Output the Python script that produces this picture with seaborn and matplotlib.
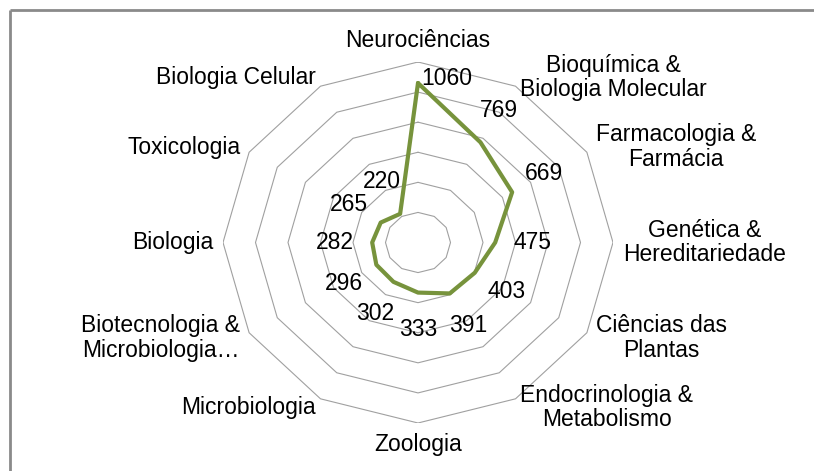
import numpy as np
import pandas as pd
import matplotlib.pyplot as plt
from matplotlib.lines import Line2D
import seaborn as sns

# Radar chart data (clockwise from top)
categories = ['Neurociências', 'Bioquímica &\nBiologia Molecular', 'Farmacologia &\nFarmácia',
              'Genética &\nHereditariedade', 'Ciências das\nPlantas', 'Endocrinologia &\nMetabolismo',
              'Zoologia', 'Microbiologia', 'Biotecnologia &\nMicrobiologia…', 'Biologia',
              'Toxicologia', 'Biologia Celular']
values = [1060, 769, 669, 475, 403, 391, 333, 302, 296, 282, 265, 220]
ring_levels = [200, 400, 600, 800, 1000, 1200]

sns.set_theme(style='white')
plt.rcParams['font.family'] = ['Liberation Sans', 'DejaVu Sans']

fig = plt.figure(figsize=(8.14, 4.71), dpi=100)
ax = fig.add_axes([223 / 814, 48 / 471, 390 / 814, 361 / 471])
rmax = ring_levels[-1]
ax.set_xlim(-rmax, rmax)
ax.set_ylim(-rmax, rmax)
ax.axis('off')

n = len(categories)
theta = np.arange(n) * 2 * np.pi / n
sin_t, cos_t = np.sin(theta), np.cos(theta)

# concentric polygon gridlines
for lvl in ring_levels:
    gx = np.append(lvl * sin_t, lvl * sin_t[0])
    gy = np.append(lvl * cos_t, lvl * cos_t[0])
    ax.plot(gx, gy, color='#a0a0a0', lw=0.8, zorder=1)

# data polygon
vals = np.array(values)
df = pd.DataFrame({'x': np.append(vals * sin_t, vals[0] * sin_t[0]),
                   'y': np.append(vals * cos_t, vals[0] * cos_t[0])})
sns.lineplot(data=df, x='x', y='y', sort=False, estimator=None, color='#77933c',
             linewidth=3, ax=ax, zorder=3)

fs = 16.5
pt = 0.72  # points per pixel at 100 dpi

# category labels
for i, lab in enumerate(categories):
    s, c = sin_t[i], cos_t[i]
    if s > 0.3:
        ha = 'left'
    elif s < -0.3:
        ha = 'right'
    else:
        ha = 'center'
    va = 'center'
    if abs(s) < 0.3:
        va = 'bottom' if c > 0 else 'top'
    d = 10 * pt
    ax.annotate(lab, (rmax * s, rmax * c), xytext=(d * s, d * c), textcoords='offset points',
                ha=ha, va=va, fontsize=fs, color='black', multialignment='center',
                linespacing=1.1, annotation_clip=False)

# data labels
for i, v in enumerate(values):
    s, c = sin_t[i], cos_t[i]
    if i == 0:
        ax.annotate(str(v), (v * s, v * c), xytext=(3 * pt, 5 * pt), textcoords='offset points',
                    ha='left', va='center', fontsize=fs, color='black')
    else:
        d = 37 * pt
        ax.annotate(str(v), (v * s, v * c), xytext=(d * s, d * c), textcoords='offset points',
                    ha='center', va='center', fontsize=fs, color='black')

# chart-area border (left and top edges visible)
fig.add_artist(Line2D([10 / 814, 10 / 814], [0, 1 - 10 / 471], transform=fig.transFigure,
                      color='#8a8a8a', lw=2, solid_capstyle='butt'))
fig.add_artist(Line2D([10 / 814, 1.01], [1 - 10 / 471, 1 - 10 / 471], transform=fig.transFigure,
                      color='#8a8a8a', lw=2, solid_capstyle='butt'))

fig.savefig('out.png', dpi=100)
